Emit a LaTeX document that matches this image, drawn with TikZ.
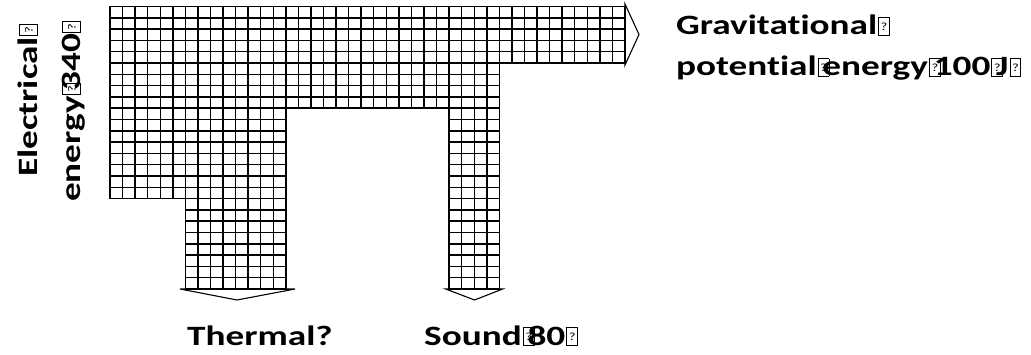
\documentclass[tikz,border=0pt]{standalone}
\usepackage{fontspec}
\setmainfont{Carlito}
\newfontfamily\labfont{Carlito}[FakeStretch=1.33,Ligatures=NoCommon]
\newcommand\tofu{{\setlength\fboxsep{0pt}\setlength\fboxrule{0.9pt}\kern1pt\fbox{\rule{0pt}{17pt}\makebox[10pt]{\raisebox{4.5pt}{\fontsize{11}{11}\selectfont\mdseries ?}}}\kern1pt}}
\newcommand\otofu{\tofu\kern-8pt}
\begin{document}
\begin{tikzpicture}[x=1pt,y=-1pt,
  gridline/.style={line width=1.45pt, black, line cap=rect},
  headline/.style={line width=1.1pt, black, line join=miter},
  lab/.style={inner sep=0pt, font=\labfont\fontsize{28}{34}\selectfont\bfseries, anchor=base west}]
\fill[white] (0,0) rectangle (1031,355);
\useasboundingbox (0,0) rectangle (1031,355);
\begin{scope}[shift={(110,6.5)}, x=12.56pt, y=-11.3pt]
  \foreach \a/\b/\c/\d in {0/0/14/17, 14/0/31/9, 31/0/41/5, 6/17/14/25, 27/9/31/25} {
    \foreach \i in {\a,...,\c} \draw[gridline] (\i,\b) -- (\i,\d);
    \foreach \j in {\b,...,\d} \draw[gridline] (\a,\j) -- (\c,\j);
  }
\end{scope}
% arrow heads
\coordinate (tA) at (180,289); \coordinate (tT) at (237,300); \coordinate (tB) at (295,289);
\coordinate (sA) at (445.7,289); \coordinate (sT) at (474.5,300); \coordinate (sB) at (502.7,289);
\coordinate (gA) at (625,4); \coordinate (gT) at (639,34.5); \coordinate (gB) at (625,65);
\draw[headline] (tA) -- (tT) -- (tB) -- cycle;
\draw[headline] (sA) -- (sT) -- (sB) -- cycle;
\draw[headline] (gA) -- (gT) -- (gB) -- cycle;
% labels
\node[lab] (grav1) at (676,35) {Gravitational\tofu};
\node[lab] (grav2) at (676,76) {potential\otofu energy\otofu100\otofu J\tofu};
\node[lab] (therm) at (187,345) {Thermal?};
\node[lab] (sound) at (424,345) {Sound\otofu80\tofu};
\node[lab, rotate=90] (elec1) at (37,177) {Electrical\tofu};
\node[lab, rotate=90] (elec2) at (80,202) {energy\otofu340\tofu};
\end{tikzpicture}
\end{document}
